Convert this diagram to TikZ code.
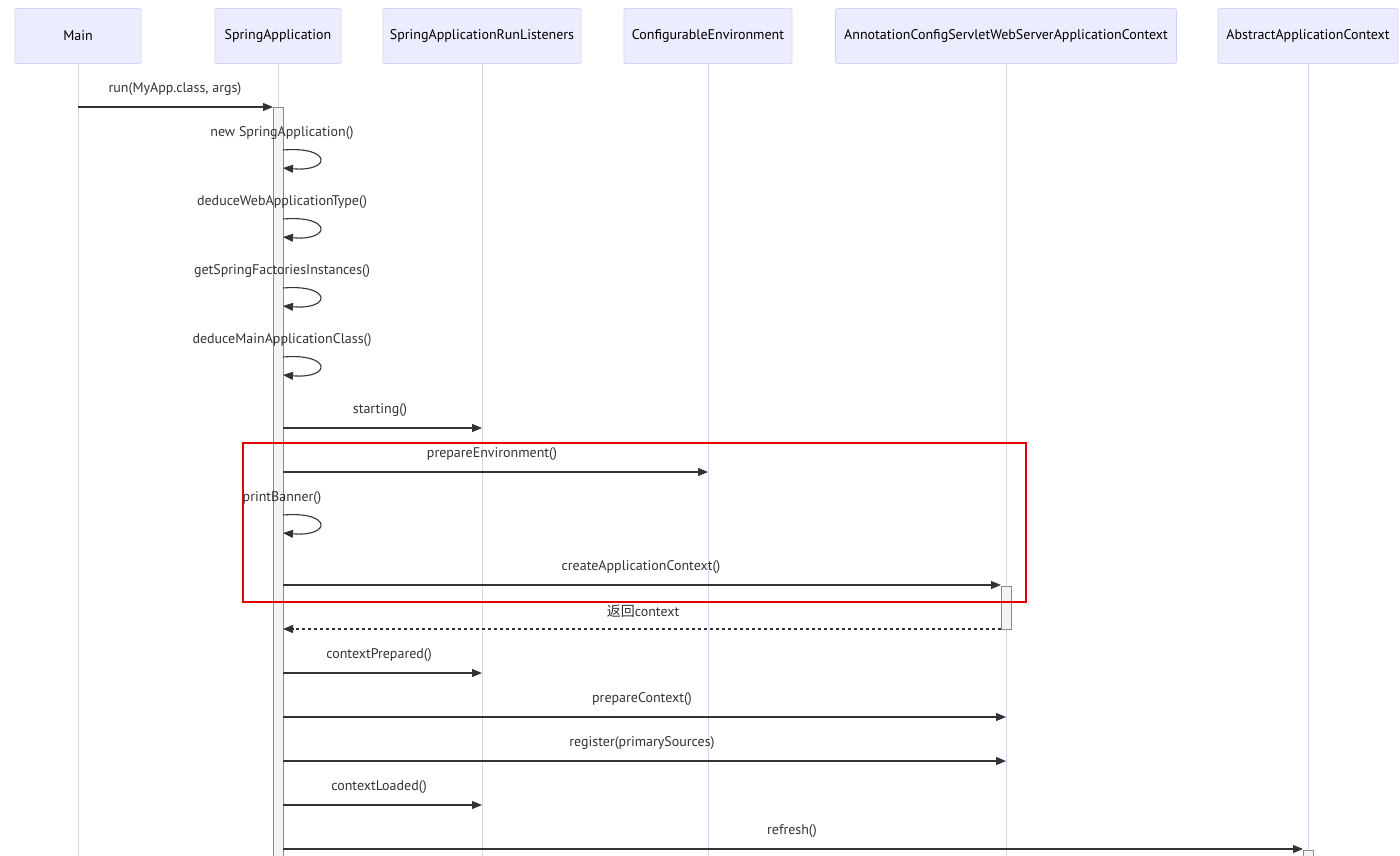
\documentclass[tikz,border=0pt]{standalone}
\usepackage{fontspec}
\setmainfont{PT Sans}
\newfontfamily\cjk{Noto Sans CJK SC}
\usetikzlibrary{arrows.meta}
\definecolor{actfill}{HTML}{ECECFF}
\definecolor{actline}{HTML}{D3D3F7}
\definecolor{lifeline}{HTML}{D4D4F4}
\definecolor{msg}{HTML}{333333}
\definecolor{barfill}{HTML}{F4F4F4}
\definecolor{barline}{HTML}{8A8A8A}
\tikzset{
  actor/.style={draw=actline,fill=actfill,rounded corners=2pt,line width=0.8pt,minimum height=55pt,inner sep=0pt,font=\fontsize{14}{16}\selectfont},
  life/.style={draw=lifeline,line width=1pt},
  bar/.style={draw=barline,fill=barfill,line width=0.8pt},
  msgline/.style={draw=msg,line width=1.1pt,-{Triangle[length=10pt,width=8pt]}},
  retline/.style={draw=msg,line width=1.1pt,dash pattern=on 3pt off 3pt,-{Triangle[length=10pt,width=8pt]}},
  lbl/.style={font=\fontsize{14}{16}\selectfont,text=msg,inner sep=0pt,yshift=-1.5pt},
}
\begin{document}
\begin{tikzpicture}[x=1pt,y=-1pt]
\useasboundingbox[fill=white] (0,0) rectangle (1400,856);
% participants
\node[actor,minimum width=126pt] (main) at (78,36) {Main};
\node[actor,minimum width=126pt] (spr) at (278,36) {SpringApplication};
\node[actor,minimum width=198pt] (rl) at (482,36) {SpringApplicationRunListeners};
\node[actor,minimum width=168pt] (env) at (708,36) {ConfigurableEnvironment};
\node[actor,minimum width=341pt] (ann) at (1006,36) {AnnotationConfigServletWebServerApplicationContext};
\node[actor,minimum width=180pt] (abs) at (1308,36) {AbstractApplicationContext};
% lifelines
\coordinate (mainE) at (78,856);
\coordinate (sprE) at (278,856);
\coordinate (rlE) at (482,856);
\coordinate (envE) at (708,856);
\coordinate (annE) at (1006,856);
\coordinate (absE) at (1308,856);
\foreach \p in {main,spr,rl,env,ann,abs} \draw[life] (\p.south) -- (\p E);
% activation bars
\draw[bar] (273,107) rectangle (283,860);
\draw[bar] (1001,586) rectangle (1011,629);
\draw[bar] (1303,850) rectangle (1313,860);
% messages
\coordinate (m1a) at (78,107); \coordinate (m1b) at (273,107);
\draw[msgline] (m1a) -- (m1b);
\node[lbl] (l1) at (175,88) {run(MyApp.class, args)};
% self loops
\foreach \y/\t/\n in {150/new SpringApplication()/s1,219/deduceWebApplicationType()/s2,288/getSpringFactoriesInstances()/s3,357/deduceMainApplicationClass()/s4,515/printBanner()/s5}{
  \coordinate (\n a) at (283,\y);
  \coordinate (\n b) at (283,\y+18);
  \draw[msgline] (\n a) .. controls (332,\y-4) and (332,\y+22) .. (\n b);
  \node[lbl] (\n l) at (282,\y-18) {\t};
}
% straight messages
\coordinate (m6a) at (283,428); \coordinate (m6b) at (482,428);
\draw[msgline] (m6a) -- (m6b);
\node[lbl] (l6) at (380,409) {starting()};
\coordinate (m7a) at (283,472); \coordinate (m7b) at (708,472);
\draw[msgline] (m7a) -- (m7b);
\node[lbl] (l7) at (492,453) {prepareEnvironment()};
\coordinate (m9a) at (283,585); \coordinate (m9b) at (1001,585);
\draw[msgline] (m9a) -- (m9b);
\node[lbl] (l9) at (641,566) {createApplicationContext()};
\coordinate (m10a) at (1001,629); \coordinate (m10b) at (283,629);
\draw[retline] (m10a) -- (m10b);
\node[lbl] (l10) at (643,610) {{\cjk 返回}context};
\coordinate (m11a) at (283,673); \coordinate (m11b) at (482,673);
\draw[msgline] (m11a) -- (m11b);
\node[lbl] (l11) at (379,654) {contextPrepared()};
\coordinate (m12a) at (283,717); \coordinate (m12b) at (1006,717);
\draw[msgline] (m12a) -- (m12b);
\node[lbl] (l12) at (642,698) {prepareContext()};
\coordinate (m13a) at (283,761); \coordinate (m13b) at (1006,761);
\draw[msgline] (m13a) -- (m13b);
\node[lbl] (l13) at (642,742) {register(primarySources)};
\coordinate (m14a) at (283,805); \coordinate (m14b) at (482,805);
\draw[msgline] (m14a) -- (m14b);
\node[lbl] (l14) at (379,786) {contextLoaded()};
\coordinate (m15a) at (283,849); \coordinate (m15b) at (1303,849);
\draw[msgline] (m15a) -- (m15b);
\node[lbl] (l15) at (792,830) {refresh()};
% highlight rectangle
\draw[draw=red!90!black,line width=1.8pt] (243,443) rectangle (1026,602);
\end{tikzpicture}
\end{document}
